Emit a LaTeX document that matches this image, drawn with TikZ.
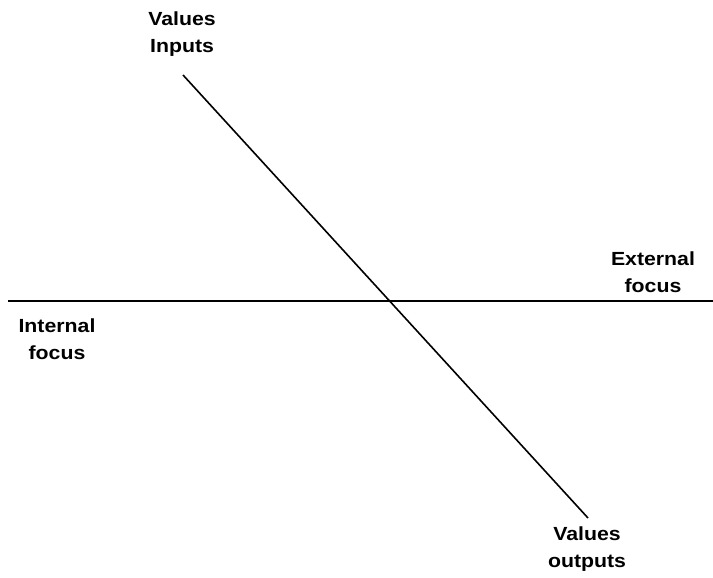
\documentclass[tikz,border=0pt]{standalone}
\usepackage{fontspec}
\setmainfont[FakeStretch=1.12]{Liberation Sans}
\usepackage{tikz}
\usetikzlibrary{positioning}

\tikzset{
    axislabel/.style={align=center, font=\bfseries\fontsize{19}{27.5}\selectfont, inner sep=0pt},
    axisline/.style={line width=1.6pt}
}

\begin{document}
\begin{tikzpicture}[x=1pt, y=-1pt]
    \useasboundingbox (0,0) rectangle (713,578);
    \node[axislabel](vin)     at (182,34)  {Values\\Inputs};
    \node[axislabel](ext)     at (653,272) {External\\focus};
    \node[axislabel](int)     at (57,339)  {Internal\\focus};
    \node[axislabel](vout)    at (587,549) {Values\\outputs};
    \coordinate (top)    at (183,75);
    \coordinate (bottom) at (588,518);
    \coordinate (left)   at (8,301);
    \coordinate (right)  at (713,301);
    % Axes
    \path
        (top)
            edge [axisline] (bottom)
        (left)
            edge [axisline] (right)
        ;
\end{tikzpicture}
\end{document}
